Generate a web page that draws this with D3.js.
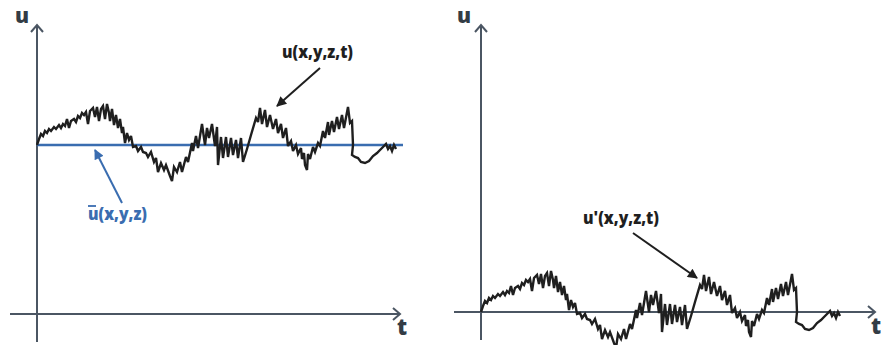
<!DOCTYPE html>
<html>
<head>
<meta charset="utf-8">
<script src="https://cdn.jsdelivr.net/npm/d3@7"></script>
<style>
  html, body { margin: 0; padding: 0; background: #fff; }
  svg { display: block; }
</style>
</head>
<body>
<svg id="chart" width="881" height="345"></svg>
<script>
// ---------- data ----------
const t = [0,2,4,6,8,10,12,14,17,19,22,24,26,28,30,32,34,37,39,41,43,45,47,49,51,53,56,58,60,62,64,66,68,70,72,73,75,77,79,81,83,85,86,88,90,92,94,96,99,101,104,106,109,111,114,117,119,121,124,127,129,133,135,137,140,143,145,149,151,155,156,159,161,165,168,170,172,175,178,180,181,184,186,189,191,194,196,199,201,204,206,210,214,219,221,223,225,228,230,233,236,239,241,244,246,249,251,254,256,259,261,264,265,267,268,270,271,273,276,278,281,283,286,288,291,292,295,297,300,302,305,307,311,313,315,316,315,318,321,324,328,332,336,340,343,346,349,351,353,355,357,359];
const uPrime = [0,6,11,9,14,12,16,14,18,16,20,17,21,19,26,17,24,26,23,29,27,32,30,33,21,34,37,28,38,24,36,39,26,41,32,24,36,20,30,17,26,12,18,2,12,5,9,-2,-1,-6,-2,-7,-8,-12,-7,-17,-13,-27,-18,-25,-20,-31,-36,-22,-27,-17,-27,-12,-17,2,-6,9,-3,21,0,17,7,21,-1,18,-20,8,-13,8,-12,7,-10,5,-13,7,-17,-4,10,27,23,37,21,35,18,30,16,26,12,21,7,17,-1,4,-6,0,-9,-3,-14,-8,-20,-25,-9,-14,-2,-7,2,-1,14,7,23,10,24,13,28,16,30,17,38,22,24,0,-10,-12,-13,-17,-18,-16,-11,-8,-5,-2,1,-4,-1,-6,0,-4];
const uMean = 169;
const labelSignal = "u(x,y,z,t)";
const labelMean = "u(x,y,z)";
const labelFluct = "u'(x,y,z,t)";
const axisLabelY = "u";
const axisLabelX = "t";

// ---------- layout ----------
const svg = d3.select("#chart");
const axisColor = "#4b5663";
const lineColor = "#1f1f1f";
const meanColor = "#3a6db0";

const defs = svg.append("defs");
function marker(id, color) {
  defs.append("marker")
    .attr("id", id).attr("viewBox", "0 0 10 10")
    .attr("refX", 9).attr("refY", 5)
    .attr("markerWidth", 13).attr("markerHeight", 10)
    .attr("markerUnits", "userSpaceOnUse")
    .attr("orient", "auto")
    .append("path").attr("d", "M0,0 L10,5 L0,10 Z").attr("fill", color);
}
marker("headBlack", "#1f1f1f");
marker("headBlue", meanColor);

const panels = [
  { x: d3.scaleLinear().domain([0, 363]).range([37, 400]),
    y: d3.scaleLinear().domain([0, 289]).range([314, 25]),
    tMin: -27, uMin: -28, offset: uMean, showMean: true,
    ylab: [15, 23], xlab: [397, 335] },
  { x: d3.scaleLinear().domain([0, 394]).range([481, 875]),
    y: d3.scaleLinear().domain([0, 287]).range([312, 25]),
    tMin: -27, uMin: -28, offset: 0, showMean: false,
    ylab: [457, 23], xlab: [871, 334] }
];

panels.forEach((p, i) => {
  const g = svg.append("g");
  const [t0, t1] = p.x.domain();
  const [u0, u1] = p.y.domain();
  const ox = p.x(0), oy = p.y(0);
  const xEnd = p.x(t1), yTop = p.y(u1);

  // axes
  g.append("line").attr("x1", p.x(p.tMin)).attr("x2", xEnd).attr("y1", oy).attr("y2", oy)
    .attr("stroke", axisColor).attr("stroke-width", 2);
  g.append("line").attr("x1", ox).attr("x2", ox).attr("y1", p.y(p.uMin)).attr("y2", yTop)
    .attr("stroke", axisColor).attr("stroke-width", 2);
  // open arrow heads
  g.append("path").attr("d", `M${ox-6},${yTop+7} L${ox},${yTop} L${ox+6},${yTop+7}`)
    .attr("fill", "none").attr("stroke", axisColor).attr("stroke-width", 2);
  g.append("path").attr("d", `M${xEnd-7},${oy-6} L${xEnd},${oy} L${xEnd-7},${oy+6}`)
    .attr("fill", "none").attr("stroke", axisColor).attr("stroke-width", 2);

  // axis labels
  g.append("text").attr("x", p.ylab[0]).attr("y", p.ylab[1]).text(axisLabelY)
    .attr("font-family", "Open Sans").attr("font-weight", 800).attr("font-size", 21).attr("fill", "#333c45");
  g.append("text").attr("x", p.xlab[0]).attr("y", p.xlab[1]).text(axisLabelX)
    .attr("font-family", "Open Sans").attr("font-weight", 800).attr("font-size", 22).attr("fill", "#333c45");

  // mean line
  if (p.showMean) {
    g.append("line").attr("x1", p.x(0)).attr("x2", p.x(t1 + 3))
      .attr("y1", p.y(uMean)).attr("y2", p.y(uMean))
      .attr("stroke", meanColor).attr("stroke-width", 2.4);
  }

  // signal
  const line = d3.line().x(d => p.x(d[0])).y(d => p.y(d[1] + p.offset));
  g.append("path").datum(t.map((tt, k) => [tt, uPrime[k]]))
    .attr("d", line).attr("fill", "none").attr("stroke", lineColor)
    .attr("stroke-width", 2.4).attr("stroke-linejoin", "miter").attr("stroke-miterlimit", 3);
});

// ---------- annotations (in data units of each panel) ----------
const L = panels[0], R = panels[1];
function label(p, tt, uu, txt, len, color) {
  return svg.append("text").attr("x", p.x(tt)).attr("y", p.y(uu)).text(txt)
    .attr("font-family", "Open Sans").attr("font-weight", 800).attr("font-size", 17)
    .attr("textLength", len).attr("lengthAdjust", "spacingAndGlyphs").attr("fill", color);
}
function arrow(p, a, b, color, head) {
  svg.append("line").attr("x1", p.x(a[0])).attr("y1", p.y(a[1]))
    .attr("x2", p.x(b[0])).attr("y2", p.y(b[1]))
    .attr("stroke", color).attr("stroke-width", 2).attr("marker-end", `url(#${head})`);
}

label(L, 245, 256, labelSignal, 71, "#1f1f1f");
arrow(L, [283, 246], [240, 208], "#1f1f1f", "headBlack");

label(L, 51, 94, labelMean, 59, meanColor);
svg.append("line").attr("x1", L.x(51)).attr("x2", L.x(59))
  .attr("y1", L.y(108)).attr("y2", L.y(108)).attr("stroke", meanColor).attr("stroke-width", 1.8);
arrow(L, [85, 111], [58, 164], meanColor, "headBlue");

label(R, 102, 88, labelFluct, 76, "#1f1f1f");
arrow(R, [152, 79], [216, 34], "#1f1f1f", "headBlack");
</script>
</body>
</html>
